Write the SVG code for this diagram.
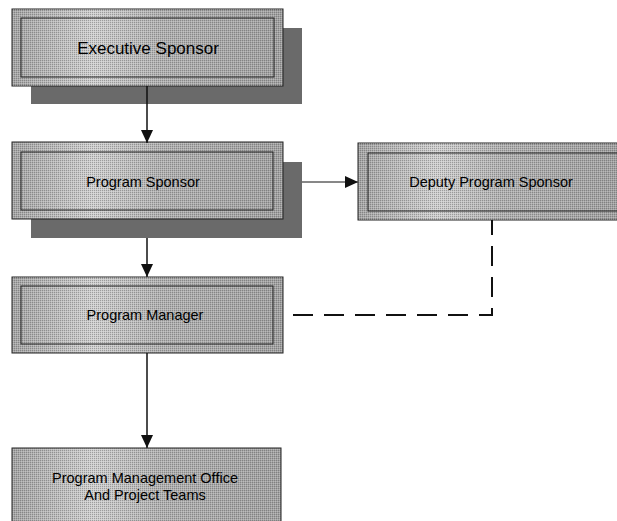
<svg xmlns="http://www.w3.org/2000/svg" width="617" height="521" viewBox="0 0 617 521">
<defs>
<style>
.outer{stroke:#222;stroke-width:1}
.inner{fill:none;stroke:#222;stroke-width:1}
.shadow{fill:#6a6a6a}
.lbl{font-family:"Liberation Sans",Arial,sans-serif;font-size:14.5px;fill:#000;text-anchor:middle}
.conn{stroke:#111;fill:none}
</style>
<linearGradient id="g" x1="0" y1="0" x2="1" y2="0">
<stop offset="0" stop-color="#a4a4a4"/>
<stop offset="0.3" stop-color="#cfcfcf"/>
<stop offset="0.55" stop-color="#b0b0b0"/>
<stop offset="1" stop-color="#a0a0a0"/>
</linearGradient>
<pattern id="dots" width="2" height="2" patternUnits="userSpaceOnUse">
<rect width="1" height="1" fill="#444" fill-opacity="0.35"/>
<rect x="1" y="1" width="1" height="1" fill="#fff" fill-opacity="0.25"/>
</pattern>
<marker id="ah" markerWidth="12" markerHeight="13" refX="13" refY="6" orient="auto" markerUnits="userSpaceOnUse">
<path d="M0,0 L13,6 L0,12 Z" fill="#111"/>
</marker>
</defs>
<rect width="617" height="521" fill="#fff"/>

<g id="executive-sponsor">
<rect class="shadow" x="31" y="28" width="271" height="76"/>
<rect class="outer" x="12" y="9" width="271" height="77" fill="url(#g)"/>
<rect x="12" y="9" width="271" height="77" fill="url(#dots)"/>
<rect class="inner" x="21" y="18" width="253" height="59"/>
<text class="lbl" x="148" y="54" style="font-size:17px">Executive Sponsor</text>
</g>

<g id="program-sponsor">
<rect class="shadow" x="31" y="162" width="271" height="76"/>
<rect class="outer" x="12" y="142" width="271" height="77" fill="url(#g)"/>
<rect x="12" y="142" width="271" height="77" fill="url(#dots)"/>
<rect class="inner" x="21" y="152" width="252" height="58"/>
<text class="lbl" x="143" y="187">Program Sponsor</text>
</g>

<g id="deputy-program-sponsor">
<rect class="outer" x="358" y="143" width="262" height="77" fill="url(#g)"/>
<rect x="358" y="143" width="262" height="77" fill="url(#dots)"/>
<rect class="inner" x="368" y="153" width="260" height="58"/>
<text class="lbl" x="491" y="187">Deputy Program Sponsor</text>
</g>

<g id="program-manager">
<rect class="outer" x="12" y="277" width="271" height="76" fill="url(#g)"/>
<rect x="12" y="277" width="271" height="76" fill="url(#dots)"/>
<rect class="inner" x="21" y="286" width="252" height="58"/>
<text class="lbl" x="145" y="320">Program Manager</text>
</g>

<g id="pmo">
<rect class="outer" x="12" y="448" width="269" height="80" fill="url(#g)"/>
<rect x="12" y="448" width="269" height="80" fill="url(#dots)"/>
<text class="lbl" x="145" y="483">Program Management Office</text>
<text class="lbl" x="145" y="500">And Project Teams</text>
</g>

<g id="connectors">
<line class="conn" x1="147" y1="86" x2="147" y2="143" stroke-width="1.5" marker-end="url(#ah)"/>
<line class="conn" x1="147" y1="238" x2="147" y2="277" stroke-width="1.5" marker-end="url(#ah)"/>
<line class="conn" x1="147" y1="353" x2="147" y2="448" stroke-width="1.5" marker-end="url(#ah)"/>
<line class="conn" x1="302" y1="182" x2="358" y2="182" stroke-width="1" marker-end="url(#ah)"/>
<path class="conn" d="M293,315 H492 V220" stroke-width="2" stroke-dasharray="20,11"/>
</g>
</svg>
